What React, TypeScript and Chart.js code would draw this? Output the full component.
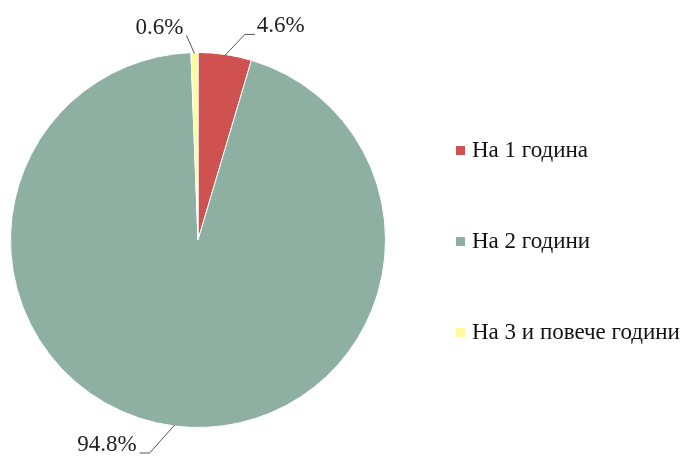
import React, { useEffect, useRef } from "react";
import { Chart, registerables } from "chart.js";

Chart.register(...registerables);

const categories = ["На 1 година", "На 2 години", "На 3 и повече години"];
const values = [4.6, 94.8, 0.6];
const valueLabels = ["4.6%", "94.8%", "0.6%"];
const colors = ["#CF5250", "#8EB0A3", "#FDFB9E"];

// leader-line geometry per slice (style, not data)
const leader = [
  { dx: 20, dy: -21, hx: 10, align: "left" },
  { dx: -25, dy: 28, hx: -10, align: "right" },
  { dx: -8, dy: -18, hx: 0, align: "right" },
];

const FONT = "23px 'Liberation Serif', 'Times New Roman', serif";

const labelPlugin = {
  id: "leaderLabels",
  afterDatasetsDraw(chart: any) {
    const ctx = chart.ctx;
    const meta = chart.getDatasetMeta(0);
    ctx.save();
    ctx.font = FONT;
    ctx.fillStyle = "#222";
    ctx.strokeStyle = "#555";
    ctx.lineWidth = 1;
    meta.data.forEach((arc: any, i: number) => {
      const p = arc.getProps(["x", "y", "startAngle", "endAngle", "outerRadius"], true);
      const mid = (p.startAngle + p.endAngle) / 2;
      const sx = p.x + Math.cos(mid) * (p.outerRadius - 1);
      const sy = p.y + Math.sin(mid) * (p.outerRadius - 1);
      const L = leader[i];
      const ex = sx + L.dx;
      const ey = sy + L.dy;
      const hx = ex + L.hx;
      ctx.beginPath();
      ctx.moveTo(sx, sy);
      ctx.lineTo(ex, ey);
      ctx.lineTo(hx, ey);
      ctx.stroke();
      ctx.textAlign = L.align;
      ctx.textBaseline = "alphabetic";
      const tx = L.align === "left" ? hx + 2 : hx - 3;
      const ty = ey - 2;
      ctx.fillText(valueLabels[i], tx, ty);
    });
    ctx.restore();
  },
};

const legendPlugin = {
  id: "spacedLegend",
  afterDraw(chart: any) {
    const ctx = chart.ctx;
    ctx.save();
    ctx.font = FONT;
    ctx.textAlign = "left";
    ctx.textBaseline = "middle";
    const ys = [150, 241, 332];
    categories.forEach((c, i) => {
      ctx.fillStyle = colors[i];
      ctx.fillRect(456, ys[i] - 4, 9, 9);
      ctx.fillStyle = "#111";
      ctx.fillText(c, 472, ys[i] + 1);
    });
    ctx.restore();
  },
};

export default function App() {
  const ref = useRef<HTMLCanvasElement>(null);
  useEffect(() => {
    if (!ref.current) return;
    const chart = new Chart(ref.current, {
      type: "pie",
      data: {
        labels: categories,
        datasets: [
          {
            data: values,
            backgroundColor: colors,
            borderColor: "#ffffff",
            borderWidth: 1,
          },
        ],
      },
      options: {
        responsive: false,
        animation: false,
        layout: { padding: { left: 10, right: 300, top: 52, bottom: 29 } },
        plugins: {
          legend: { display: false },
          tooltip: { enabled: false },
        },
      },
      plugins: [labelPlugin, legendPlugin],
    });
    return () => chart.destroy();
  }, []);
  return (
    <div style={{ position: "fixed", left: 0, top: 0, width: 686, height: 457, background: "#fff" }}>
      <canvas ref={ref} width={686} height={457} />
    </div>
  );
}
